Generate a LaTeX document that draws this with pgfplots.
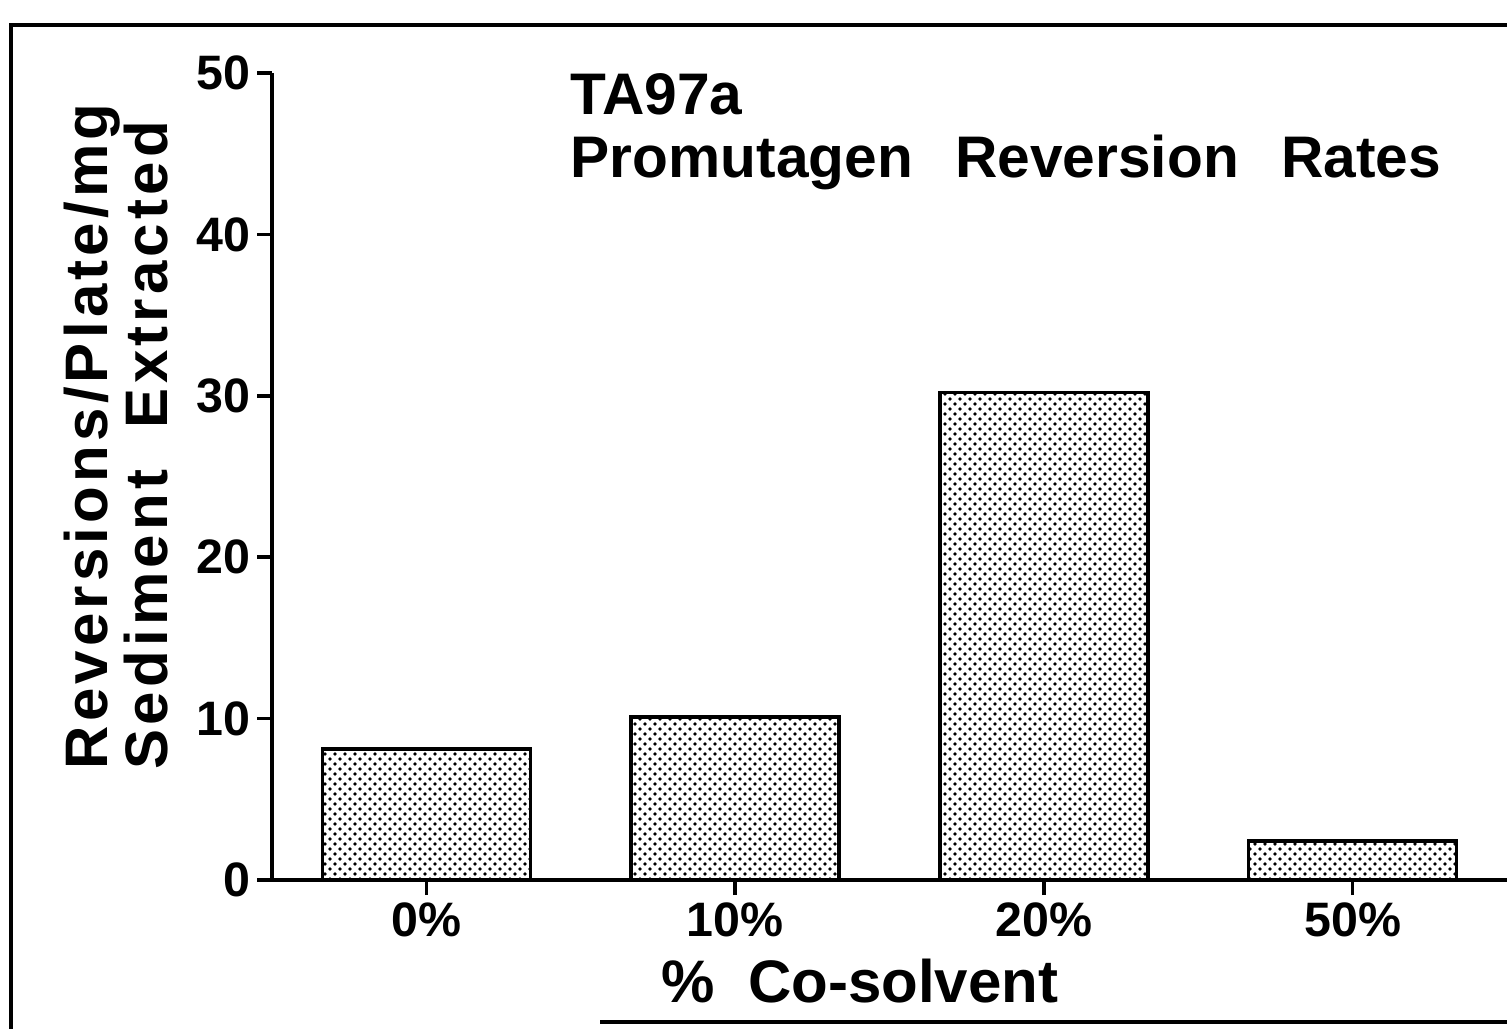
\documentclass[border=0pt]{standalone}
\usepackage{fontspec}
\setmainfont{Liberation Sans}
\newfontfamily\lsfont[LetterSpace=7]{Liberation Sans}
\usepackage{pgfplots}
\pgfplotsset{compat=1.18}
\usetikzlibrary{patterns}
\pgfdeclarepatternformonly{mydots}{\pgfqpoint{-1pt}{-1pt}}{\pgfqpoint{4pt}{4pt}}{\pgfqpoint{3pt}{3pt}}{%
  \pgfpathcircle{\pgfqpoint{0pt}{0pt}}{0.55pt}%
  \pgfpathcircle{\pgfqpoint{1.5pt}{1.5pt}}{0.55pt}%
  \pgfusepath{fill}}
\begin{document}
\begin{tikzpicture}
\useasboundingbox (0,0) rectangle (452.1pt,308.7pt);
\draw[line width=1.2pt] (452.1pt,301.2pt) -- (3.3pt,301.2pt) -- (3.3pt,0pt);
\draw[line width=1.2pt] (180pt,2.1pt) -- (452.1pt,2.1pt);
\begin{axis}[
  at={(81.6pt,44.7pt)}, anchor=south west,
  scale only axis, width=370.5pt, height=242.1pt,
  xmin=-0.5, xmax=3.5, ymin=0, ymax=50,
  axis x line=bottom, axis y line=left,
  axis line style={line width=1.2pt, -},
  xtick={0,1,2,3}, xticklabels={0\%,10\%,20\%,50\%},
  ytick={0,10,20,30,40,50},
  tick align=outside, major tick length=4.5pt,
  tick style={line width=1.1pt, black},
  ticklabel style={font=\fontsize{14.5}{16}\selectfont\bfseries},
  xticklabel style={yshift=1.2pt},
  yticklabel style={xshift=1.5pt},
  /pgf/number format/assume math mode=true,
  ybar, bar width=62.4pt,
]
\addplot[draw=black, line width=1.1pt, pattern=mydots] coordinates {(0,8.1) (1,10.1) (2,30.2) (3,2.4)};
\end{axis}
\node[anchor=north west, inner sep=0pt, align=left, font=\fontsize{17.6}{18.9}\selectfont\bfseries] at (171pt,286.8pt) {TA97a\\Promutagen\ \ \,Reversion\ \ \,Rates};
\node[anchor=north west, inner sep=0pt, align=left, rotate=90, font=\fontsize{18}{18}\selectfont\lsfont\bfseries] at (18.9pt,77.7pt) {Reversions/Plate/mg\\Sediment\ \ Extracted};
\node[anchor=base, inner sep=0pt, font=\fontsize{18}{20}\selectfont\bfseries] at (258pt,8.1pt) {\%\ \ Co-solvent};
\end{tikzpicture}
\end{document}
